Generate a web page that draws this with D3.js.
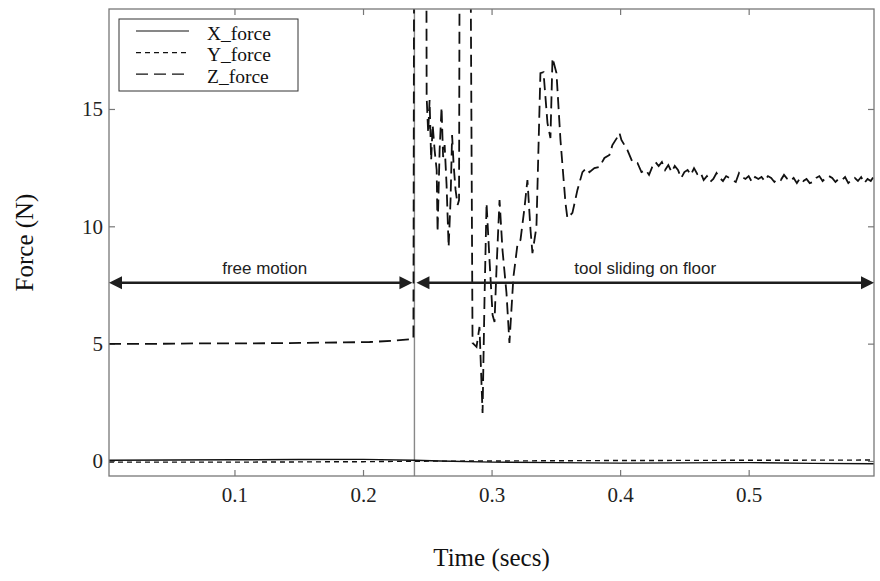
<!DOCTYPE html>
<html>
<head>
<meta charset="utf-8">
<script src="https://cdn.jsdelivr.net/npm/d3@7"></script>
<style>
  body { margin: 0; background: #fff; }
  svg { display: block; }
</style>
</head>
<body>
<svg id="chart" width="880" height="581"></svg>
<script>
// Force sensor readings during a contact experiment, [time (s), force (N)]
const xTicks = [0.1, 0.2, 0.3, 0.4, 0.5];
const yTicks = [0, 5, 10, 15];
const timeDomain = [0.0024, 0.5975];
const forceDomain = [-0.64, 19.26];

const xForce = [
  [0.0024, 0.03], [0.05, 0.04], [0.10, 0.05], [0.15, 0.06], [0.20, 0.07],
  [0.24, 0.03], [0.26, 0.0], [0.30, -0.05], [0.35, -0.07], [0.40, -0.09],
  [0.45, -0.08], [0.50, -0.07], [0.55, -0.10], [0.5975, -0.12]
];

const yForce = [
  [0.0024, -0.05], [0.10, -0.05], [0.20, -0.03], [0.24, -0.01],
  [0.30, 0.0], [0.40, 0.02], [0.50, 0.03], [0.5975, 0.04]
];

const zForce = [
  [0.0024, 4.99], [0.0343, 4.99], [0.0731, 5.01], [0.1119, 5.01], [0.1508, 5.03],
  [0.1819, 5.05], [0.2052, 5.07], [0.2247, 5.13], [0.2392, 5.20],
  [0.2400, 30], [0.2450, 30], [0.2490, 30],
  [0.2495, 15.51], [0.2507, 13.98], [0.2518, 15.38], [0.2530, 12.82], [0.2542, 14.32],
  [0.2557, 13.25], [0.2573, 12.40], [0.2580, 9.76], [0.2596, 13.25], [0.2611, 15.08],
  [0.2623, 12.95], [0.2635, 13.46], [0.2650, 11.76], [0.2666, 9.12], [0.2681, 11.12],
  [0.2693, 13.89], [0.2705, 12.61], [0.2720, 11.55], [0.2736, 10.91], [0.2747, 11.12],
  [0.2755, 30], [0.2790, 30], [0.2829, 30],
  [0.2852, 5.03], [0.2883, 4.86], [0.2906, 5.71], [0.2930, 2.05], [0.2945, 6.86],
  [0.2961, 10.99], [0.2984, 8.56], [0.3008, 6.22], [0.3023, 5.92], [0.3039, 8.27],
  [0.3062, 11.12], [0.3085, 8.99], [0.3116, 7.16], [0.3139, 5.03], [0.3170, 7.84],
  [0.3201, 9.20], [0.3225, 9.42], [0.3256, 10.78], [0.3279, 11.97], [0.3303, 9.84],
  [0.3318, 8.86], [0.3349, 9.97], [0.3380, 16.53], [0.3404, 16.57], [0.3435, 14.40],
  [0.3458, 13.76], [0.3474, 17.17], [0.3505, 16.53], [0.3536, 13.68], [0.3575, 10.99],
  [0.3590, 10.35], [0.3629, 10.57], [0.3668, 11.55], [0.3707, 12.31], [0.3738, 12.48],
  [0.3761, 12.31], [0.3800, 12.48], [0.3839, 12.53], [0.3878, 12.91], [0.3917, 13.04],
  [0.3940, 13.46], [0.3979, 13.80], [0.3995, 13.98], [0.4010, 13.68], [0.4057, 13.25],
  [0.4096, 12.74], [0.4135, 12.70], [0.4166, 12.31],
  [0.4200, 12.40], [0.4225, 12.19], [0.4250, 12.53], [0.4275, 12.74], [0.4300, 12.57],
  [0.4325, 12.74], [0.4350, 12.40], [0.4375, 12.61], [0.4400, 12.31], [0.4425, 12.57],
  [0.4450, 12.40], [0.4475, 12.06], [0.4500, 12.31], [0.4525, 12.40], [0.4550, 12.19],
  [0.4575, 12.48], [0.4600, 12.23], [0.4625, 12.31], [0.4650, 11.97], [0.4675, 12.14],
  [0.4700, 11.89], [0.4725, 12.02], [0.4750, 12.27], [0.4775, 12.06], [0.4800, 11.93],
  [0.4825, 12.14], [0.4850, 12.06], [0.4875, 11.97], [0.4900, 11.89], [0.4925, 12.27],
  [0.4950, 12.10], [0.4975, 12.02], [0.5000, 12.14], [0.5025, 11.89], [0.5050, 12.10],
  [0.5075, 12.02], [0.5100, 12.10], [0.5125, 11.93], [0.5150, 12.14], [0.5175, 12.06],
  [0.5200, 11.89], [0.5225, 12.02], [0.5250, 11.97], [0.5275, 12.19], [0.5300, 12.02],
  [0.5325, 11.93], [0.5350, 12.06], [0.5375, 11.84], [0.5400, 12.06], [0.5425, 11.93],
  [0.5450, 12.02], [0.5475, 11.84], [0.5500, 11.89], [0.5525, 12.06], [0.5550, 12.14],
  [0.5575, 11.93], [0.5600, 12.06], [0.5625, 12.14], [0.5650, 12.06], [0.5675, 11.89],
  [0.5700, 12.02], [0.5725, 11.97], [0.5750, 12.10], [0.5775, 11.84], [0.5800, 11.97],
  [0.5825, 12.06], [0.5850, 11.93], [0.5875, 12.10], [0.5900, 11.84], [0.5925, 12.02],
  [0.5950, 11.93], [0.5975, 12.14]
];

// Experiment phases marked with double-headed arrows
const phaseLabels = ["free motion", "tool sliding on floor"];
const phaseStart = [0.0024, 0.24];
const phaseEnd = [0.24, 0.5975];
const arrowLevel = 7.6;
const contactTime = 0.24;

const seriesNames = ["X_force", "Y_force", "Z_force"];
const seriesData = [xForce, yForce, zForce];
const seriesDash = [null, "5,4", "12,6"];
const seriesWidth = [1.4, 1.4, 1.8];

const plot = { left: 109, right: 874, top: 9, bottom: 476 };
const serif = "'Liberation Serif', 'Times New Roman', Times, serif";
const sans = "'Liberation Sans', Arial, Helvetica, sans-serif";
const frameColor = "#777";

const svg = d3.select("#chart");

const x = d3.scaleLinear().domain(timeDomain).range([plot.left, plot.right]);
const y = d3.scaleLinear().domain(forceDomain).range([plot.bottom, plot.top]);

svg.append("defs").append("clipPath").attr("id", "plot-clip")
  .append("rect")
  .attr("x", plot.left).attr("y", plot.top)
  .attr("width", plot.right - plot.left).attr("height", plot.bottom - plot.top);

// Axes with inward ticks on all four sides
function styleAxis(g) {
  g.select(".domain").remove();
  g.selectAll(".tick line").attr("stroke", frameColor).attr("stroke-width", 1.2);
  g.selectAll(".tick text")
    .attr("fill", "#222")
    .style("font-family", serif)
    .style("font-size", "21px");
}

svg.append("g")
  .attr("transform", `translate(0,${plot.bottom})`)
  .call(d3.axisBottom(x).tickValues(xTicks).tickSize(-6).tickPadding(11).tickFormat(d3.format(".1f")))
  .call(styleAxis);

svg.append("g")
  .attr("transform", `translate(0,${plot.top})`)
  .call(d3.axisTop(x).tickValues(xTicks).tickSize(-6).tickFormat(""))
  .call(styleAxis);

svg.append("g")
  .attr("transform", `translate(${plot.left},0)`)
  .call(d3.axisLeft(y).tickValues(yTicks).tickSize(-6).tickPadding(6).tickFormat(d3.format("d")))
  .call(styleAxis);

svg.append("g")
  .attr("transform", `translate(${plot.right},0)`)
  .call(d3.axisRight(y).tickValues(yTicks).tickSize(-6).tickFormat(""))
  .call(styleAxis);

// Contact instant
svg.append("line")
  .attr("x1", x(contactTime)).attr("x2", x(contactTime))
  .attr("y1", plot.top).attr("y2", plot.bottom)
  .attr("stroke", "#888").attr("stroke-width", 1.4);

// Force traces
const line = d3.line().x(d => x(d[0])).y(d => y(d[1]));
const traces = svg.append("g").attr("clip-path", "url(#plot-clip)");
seriesData.forEach((data, i) => {
  traces.append("path")
    .datum(data)
    .attr("d", line)
    .attr("fill", "none")
    .attr("stroke", "#111")
    .attr("stroke-width", seriesWidth[i])
    .attr("stroke-dasharray", seriesDash[i]);
});

// Frame
svg.append("rect")
  .attr("x", plot.left).attr("y", plot.top)
  .attr("width", plot.right - plot.left).attr("height", plot.bottom - plot.top)
  .attr("fill", "none").attr("stroke", frameColor).attr("stroke-width", 1.3);

// Phase arrows
const arrowColor = "#1e1e1e";
const headLen = 13, headHalf = 6.5, gap = 2;
const ay = y(arrowLevel);
phaseLabels.forEach((label, i) => {
  const x0 = x(phaseStart[i]) + (i === 0 ? 0 : gap);
  const x1 = x(phaseEnd[i]) - (i === 0 ? gap : 0);
  const g = svg.append("g");
  g.append("line")
    .attr("x1", x0 + headLen - 1).attr("x2", x1 - headLen + 1)
    .attr("y1", ay).attr("y2", ay)
    .attr("stroke", arrowColor).attr("stroke-width", 2.5);
  g.append("path")
    .attr("d", `M${x0},${ay} L${x0 + headLen},${ay - headHalf} L${x0 + headLen},${ay + headHalf} Z`)
    .attr("fill", arrowColor);
  g.append("path")
    .attr("d", `M${x1},${ay} L${x1 - headLen},${ay - headHalf} L${x1 - headLen},${ay + headHalf} Z`)
    .attr("fill", arrowColor);
  g.append("text")
    .attr("x", (x0 + x1) / 2 + (i === 0 ? 4 : 0))
    .attr("y", ay - 9)
    .attr("text-anchor", "middle")
    .attr("fill", "#222")
    .style("font-family", sans)
    .style("font-size", "17px")
    .text(label);
});

// Legend
const legend = svg.append("g");
legend.append("rect")
  .attr("x", 119).attr("y", 19).attr("width", 179).attr("height", 72)
  .attr("fill", "#fff").attr("stroke", "#333").attr("stroke-width", 1);
seriesNames.forEach((name, i) => {
  const ly = 31 + i * 21.6;
  legend.append("line")
    .attr("x1", 136).attr("x2", 189).attr("y1", ly).attr("y2", ly)
    .attr("stroke", "#111").attr("stroke-width", 1.2)
    .attr("stroke-dasharray", seriesDash[i]);
  legend.append("text")
    .attr("x", 207).attr("y", ly + 8.5)
    .attr("fill", "#111")
    .style("font-family", serif)
    .style("font-size", "19.5px")
    .text(name);
});

// Axis titles
svg.append("text")
  .attr("x", (plot.left + plot.right) / 2).attr("y", 566)
  .attr("text-anchor", "middle").attr("fill", "#111")
  .style("font-family", serif).style("font-size", "25px")
  .text("Time (secs)");

svg.append("text")
  .attr("transform", `translate(33,${(plot.top + plot.bottom) / 2}) rotate(-90)`)
  .attr("text-anchor", "middle").attr("fill", "#111")
  .style("font-family", serif).style("font-size", "25px")
  .text("Force (N)");
</script>
</body>
</html>
